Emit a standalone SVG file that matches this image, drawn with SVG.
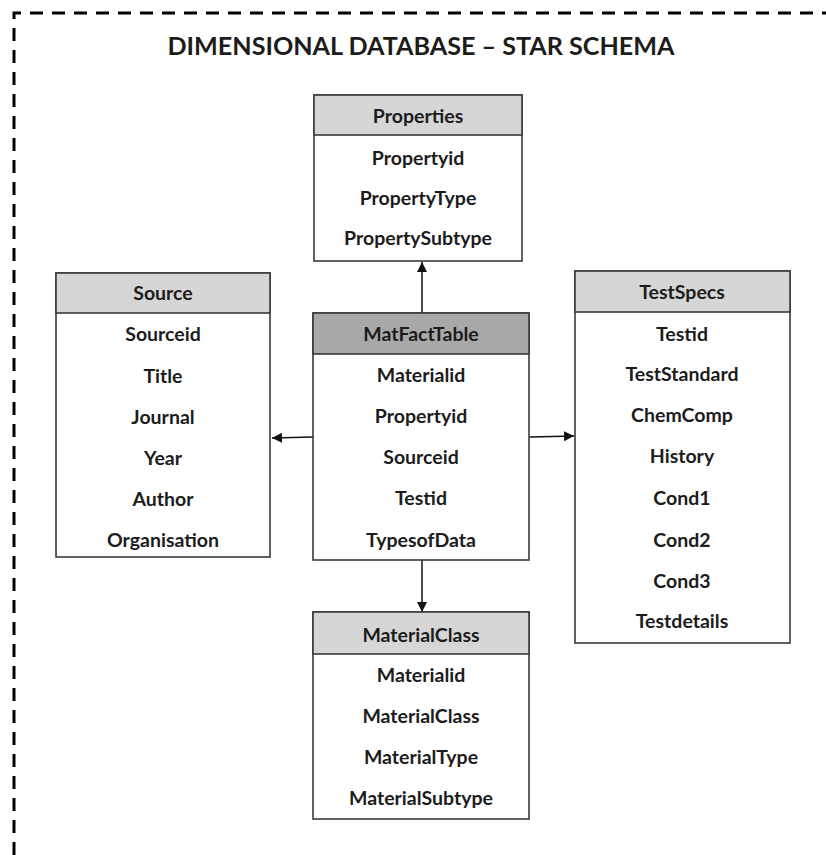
<svg xmlns="http://www.w3.org/2000/svg" width="826" height="855" viewBox="0 0 826 855">
<style>
.box{fill:#ffffff;stroke:#3a3a3a;stroke-width:1.6}
.hd{fill:#d6d6d6;stroke:#3a3a3a;stroke-width:1.6}
.hdk{fill:#a8a8a8;stroke:#3a3a3a;stroke-width:1.6}
text{font-family:Lato,"Open Sans","Liberation Sans",sans-serif;font-weight:bold;fill:#1c1c1c;text-anchor:middle}
.f{font-size:19.5px}
.t{font-size:25px}
.con{stroke:#111;stroke-width:1.5;fill:none;marker-end:url(#ah)}
</style>
<defs>
<marker id="ah" viewBox="0 0 10 10" refX="10" refY="5" markerWidth="10" markerHeight="10" markerUnits="userSpaceOnUse" orient="auto">
<path d="M0,0 L10,5 L0,10 z" fill="#111"/>
</marker>
</defs>
<rect width="826" height="855" fill="#ffffff"/>
<path d="M14,855 L14,13 L830,13" fill="none" stroke="#000" stroke-width="3" stroke-dasharray="13,9"/>
<text class="t" x="421" y="55" textLength="507" lengthAdjust="spacingAndGlyphs">DIMENSIONAL DATABASE – STAR SCHEMA</text>
<g id="connectors">
<line class="con" x1="422" y1="313" x2="422" y2="262"/>
<line class="con" x1="313" y1="437" x2="272" y2="438"/>
<line class="con" x1="530" y1="437" x2="574" y2="436"/>
<line class="con" x1="422" y1="560" x2="422" y2="612"/>
</g>
<g id="properties">
<rect class="box" x="314" y="95" width="208" height="166"/>
<rect class="hd" x="314" y="95" width="208" height="40"/>
<text class="f" x="418" y="123">Properties</text>
<text class="f" x="418" y="165">Propertyid</text>
<text class="f" x="418" y="205">PropertyType</text>
<text class="f" x="418" y="245">PropertySubtype</text>
</g>
<g id="source">
<rect class="box" x="56" y="273" width="214" height="284"/>
<rect class="hd" x="56" y="273" width="214" height="40"/>
<text class="f" x="163" y="300">Source</text>
<text class="f" x="163" y="341">Sourceid</text>
<text class="f" x="163" y="383">Title</text>
<text class="f" x="163" y="424">Journal</text>
<text class="f" x="163" y="465">Year</text>
<text class="f" x="163" y="506">Author</text>
<text class="f" x="163" y="547">Organisation</text>
</g>
<g id="matfacttable">
<rect class="box" x="313" y="313" width="216" height="247"/>
<rect class="hdk" x="313" y="313" width="216" height="41"/>
<text class="f" x="421" y="341">MatFactTable</text>
<text class="f" x="421" y="382">Materialid</text>
<text class="f" x="421" y="423">Propertyid</text>
<text class="f" x="421" y="464">Sourceid</text>
<text class="f" x="421" y="505">Testid</text>
<text class="f" x="421" y="547">TypesofData</text>
</g>
<g id="testspecs">
<rect class="box" x="575" y="271" width="215" height="372"/>
<rect class="hd" x="575" y="271" width="215" height="41"/>
<text class="f" x="682" y="299">TestSpecs</text>
<text class="f" x="682" y="341">Testid</text>
<text class="f" x="682" y="381">TestStandard</text>
<text class="f" x="682" y="422">ChemComp</text>
<text class="f" x="682" y="463">History</text>
<text class="f" x="682" y="505">Cond1</text>
<text class="f" x="682" y="547">Cond2</text>
<text class="f" x="682" y="588">Cond3</text>
<text class="f" x="682" y="628">Testdetails</text>
</g>
<g id="materialclass">
<rect class="box" x="313" y="612" width="216" height="207"/>
<rect class="hd" x="313" y="612" width="216" height="42"/>
<text class="f" x="421" y="642">MaterialClass</text>
<text class="f" x="421" y="682">Materialid</text>
<text class="f" x="421" y="723">MaterialClass</text>
<text class="f" x="421" y="764">MaterialType</text>
<text class="f" x="421" y="805">MaterialSubtype</text>
</g>
</svg>
